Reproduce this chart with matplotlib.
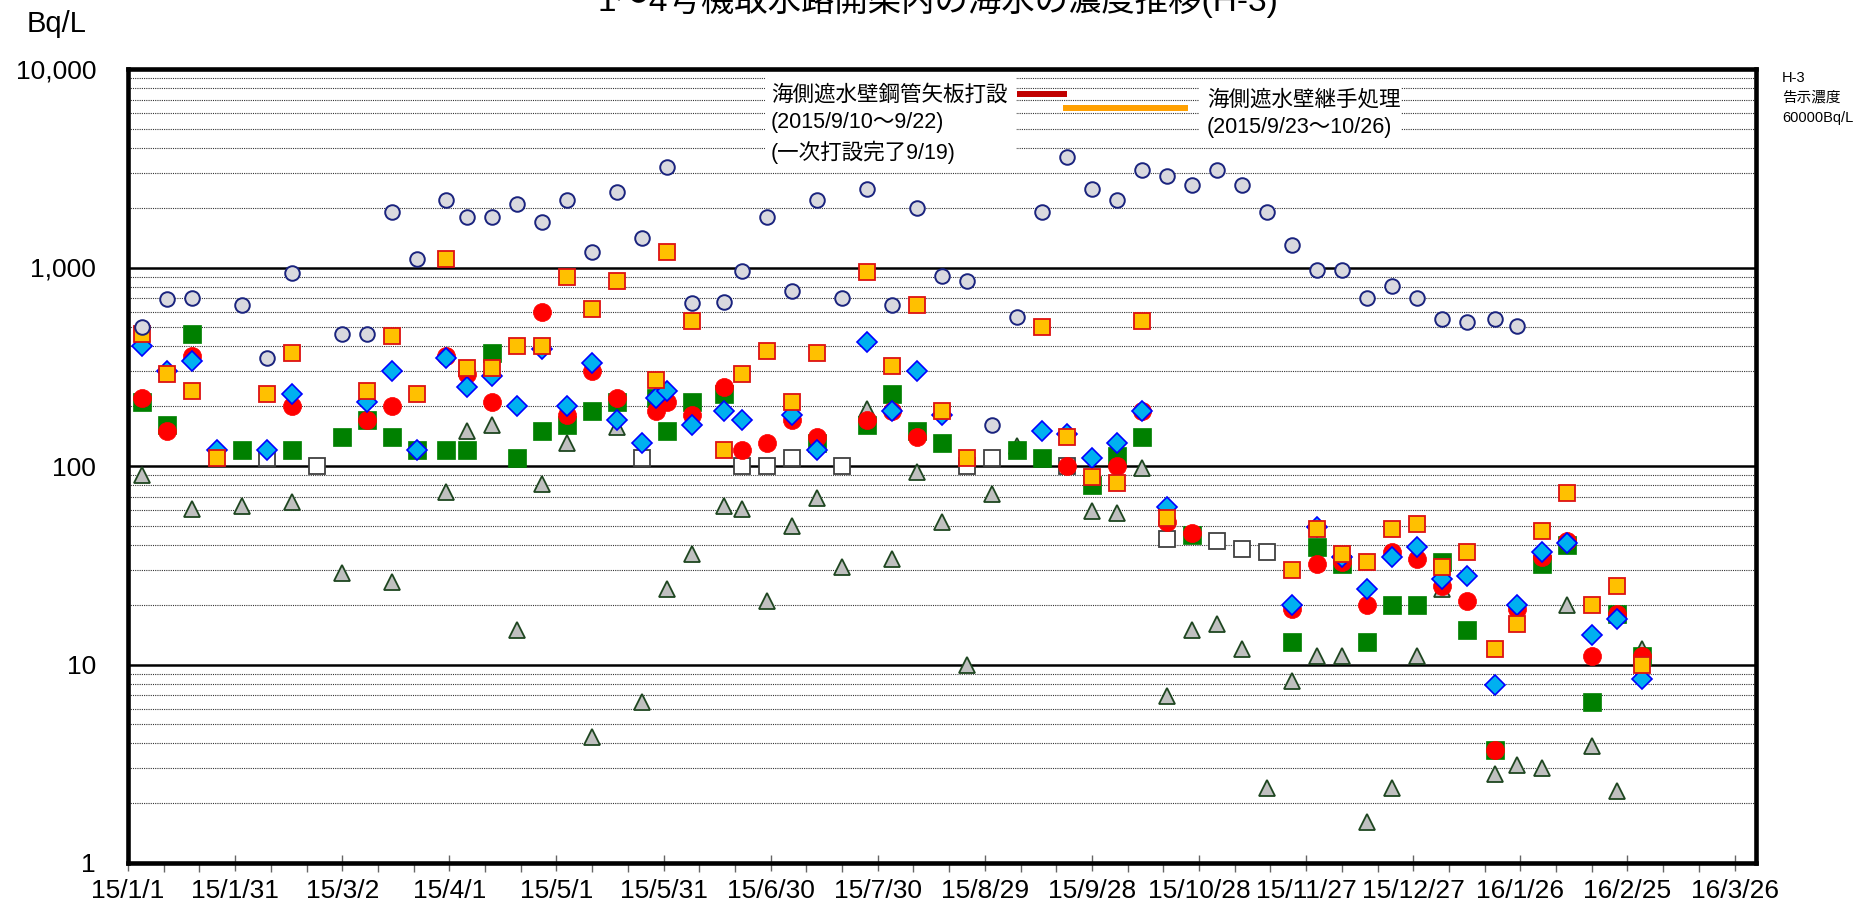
import numpy as np
import pandas as pd
import matplotlib
matplotlib.use('Agg')
import matplotlib.pyplot as plt
import matplotlib.dates as mdates
import matplotlib.transforms as mtransforms
from matplotlib.patches import Rectangle
from matplotlib.ticker import FixedLocator, FuncFormatter, LogLocator, NullFormatter

plt.rcParams['font.family'] = ['Liberation Sans', 'Noto Sans CJK JP', 'DejaVu Sans']

N = None

# 採取日
dates = ['2015-01-05', '2015-01-12', '2015-01-19', '2015-01-26', '2015-02-02',
         '2015-02-09', '2015-02-16', '2015-02-23', '2015-03-02', '2015-03-09',
         '2015-03-16', '2015-03-23', '2015-03-31', '2015-04-06', '2015-04-13',
         '2015-04-20', '2015-04-27', '2015-05-04', '2015-05-11', '2015-05-18',
         '2015-05-25', '2015-05-29', '2015-06-01', '2015-06-08', '2015-06-17',
         '2015-06-22', '2015-06-29', '2015-07-06', '2015-07-13', '2015-07-20',
         '2015-07-27', '2015-08-03', '2015-08-10', '2015-08-17', '2015-08-24',
         '2015-08-31', '2015-09-07', '2015-09-14', '2015-09-21', '2015-09-28',
         '2015-10-05', '2015-10-12', '2015-10-19', '2015-10-26', '2015-11-02',
         '2015-11-09', '2015-11-16', '2015-11-23', '2015-11-30', '2015-12-07',
         '2015-12-14', '2015-12-21', '2015-12-28', '2016-01-04', '2016-01-11',
         '2016-01-19', '2016-01-25', '2016-02-01', '2016-02-08', '2016-02-15',
         '2016-02-22', '2016-02-29']

# 各地点の濃度 (Bq/L)
gray_circle = [500, 690, 700, N, 650, 350, 940, N, 460, 460,
               1900, 1100, 2200, 1800, 1800, 2100, 1700, 2200, 1200, 2400,
               1400, N, 3200, 660, 670, 960, 1800, 760, 2200, 700,
               2500, 650, 2000, 910, 860, 160, 560, 1900, 3600, 2500,
               2200, 3100, 2900, 2600, 3100, 2600, 1900, 1300, 970, 970,
               700, 810, 700, 550, 530, 550, 510, N, N, N,
               N, N]
orange_square = [460, 290, 240, 110, N, 230, 370, N, N, 240,
                 450, 230, 1100, 310, 310, 400, 400, 900, 620, 860,
                 N, 270, 1200, 540, 120, 290, 380, 210, 370, N,
                 950, 320, 650, 190, 110, N, N, 500, 140, 88,
                 82, 540, 55, N, N, N, N, 30, 48, 36,
                 33, 48, 51, 31, 37, 12, 16, 47, 73, 20,
                 25, 10]
red_circle = [220, 150, 360, N, N, N, 200, N, N, 170,
              200, N, 360, 290, 210, N, 600, 180, 300, 220,
              N, 190, 210, 180, 250, 120, 130, 170, 140, N,
              170, 190, 140, N, N, N, N, N, 100, N,
              100, 190, 52, 46, N, N, N, 19, 32, 33,
              20, 37, 34, 25, 21, 3.7, 19, 35, 42, 11,
              18, 11]
blue_diamond = [400, 300, 340, 120, N, 120, 230, N, N, 210,
                300, 120, 350, 250, 285, 200, 390, 200, 330, 170,
                130, 220, 240, 160, 190, 170, N, 180, 120, N,
                420, 190, 300, 180, N, N, N, 150, 145, 110,
                130, 190, 62, N, N, N, N, 20, 49, 35,
                24, 35, 39, 27, 28, 7.9, 20, 37, 41, 14,
                17, 8.5]
green_square = [210, 160, 460, N, 120, N, 120, N, 140, 170,
                140, 120, 120, 120, 370, 110, 150, 160, 190, 210,
                N, 220, 150, 210, 230, N, N, N, 130, N,
                160, 230, 150, 130, N, N, 120, 110, N, 80,
                112, 140, N, 45, N, N, N, 13, 39, 32,
                13, 20, 20, 33, 15, 3.7, N, 32, 40, 6.5,
                18, 11]
gray_triangle = [90, N, 61, N, 63, N, 66, N, 29, N,
                 26, N, 74, 150, 160, 15, 81, 130, 4.3, 157,
                 6.5, N, 24, 36, 63, 61, 21, 50, 69, 31,
                 193, 34, 93, 52, 10, 72, 126, N, N, 59,
                 58, 98, 6.9, 15, 16, 12, 2.4, 8.3, 11, 11,
                 1.6, 2.4, 11, 24, N, 2.8, 3.1, 3.0, 20, 3.9,
                 2.3, 12]
white_square = [N, N, N, N, N, 110, N, 100, N, N,
                N, N, N, N, N, N, N, N, N, N,
                110, N, N, N, N, 100, 100, 110, N, 100,
                N, N, N, N, 100, 110, N, N, 100, N,
                N, N, 43, N, 42, 38, 37, N, N, N,
                N, N, N, N, N, N, N, N, N, N,
                N, N]

y_ticks = [1, 10, 100, 1000, 10000]
y_labels = ['1', '10', '100', '1,000', '10,000']

work1_period = ['2015-09-07', '2015-09-21']   # 鋼管矢板打設
work2_period = ['2015-09-20', '2015-10-25']   # 継手処理


def to_arr(v):
    return np.array([np.nan if a is None else a for a in v], dtype=float)


x = pd.to_datetime(dates)

W, H = 1854, 909
fig = plt.figure(figsize=(W / 100, H / 100), dpi=100)
ax = fig.add_axes([128 / W, 46 / H, 1628 / W, 794 / H])

styles = [
    (white_square, dict(marker='s', ms=12, mfc='white', mec='#404040', mew=1.3), 3),
    (gray_triangle, dict(marker='^', ms=12, mfc='#C0C0C0', mec='#1E4620', mew=1.3), 4),
    (green_square, dict(marker='s', ms=12.5, mfc='#008000', mec='#008000', mew=0.5), 5),
    (red_circle, dict(marker='o', ms=13, mfc='#FF0000', mec='#FF0000', mew=0.5), 6),
    (blue_diamond, dict(marker='D', ms=10.3, mfc='#00B0F0', mec='#0000FF', mew=1.2), 7),
    (orange_square, dict(marker='s', ms=11.5, mfc='#FFC000', mec='#DD1111', mew=1.3), 8),
    (gray_circle, dict(marker='o', ms=10.5, mfc='#D9D9DF', mec='#1A237E', mew=1.4), 9),
]
for vals, st, z in styles:
    ax.plot(x, to_arr(vals), linestyle='none', zorder=z, **st)

# 軸
ax.set_yscale('log')
ax.set_ylim(1, 10000)
start = pd.Timestamp('2015-01-01')
ax.set_xlim(start, pd.Timestamp('2016-04-01'))

major = [start + pd.Timedelta(days=30 * k) for k in range(16)]
minor = [start + pd.Timedelta(days=10 * k) for k in range(46) if k % 3 != 0]
ax.xaxis.set_major_locator(FixedLocator(mdates.date2num(major)))
ax.xaxis.set_minor_locator(FixedLocator(mdates.date2num(minor)))
ax.xaxis.set_major_formatter(FuncFormatter(
    lambda v, p: (lambda d: f"{d.year % 100}/{d.month}/{d.day}")(mdates.num2date(v))))
ax.xaxis.set_minor_formatter(NullFormatter())
ax.tick_params(axis='x', which='major', direction='inout', length=11, width=1,
               color='#666666', labelsize=19, pad=6)
ax.tick_params(axis='x', which='minor', direction='out', length=6.5, width=1,
               color='#666666')

ax.yaxis.set_major_locator(FixedLocator(y_ticks))
ax.set_yticklabels(y_labels)
ax.yaxis.set_minor_locator(LogLocator(base=10, subs=np.arange(2, 10)))
ax.yaxis.set_minor_formatter(NullFormatter())
ax.tick_params(axis='y', which='both', length=0, labelsize=19, pad=23)

ax.grid(axis='y', which='major', color='black', linewidth=1.8, zorder=1)
ax.grid(axis='y', which='minor', color='#333333', linewidth=0.8,
        linestyle=(0, (1, 1)), zorder=1)
ax.set_axisbelow(True)

for s in ax.spines.values():
    s.set_linewidth(3.3)
    s.set_color('black')
    s.set_capstyle('projecting')
    s.set_zorder(10)

# 工事期間の注記
box_kw = dict(transform=ax.transAxes, facecolor='white', edgecolor='none', zorder=2)
ax.add_patch(Rectangle((0.3913, 0.879), 0.1542, 0.117, **box_kw))
ax.add_patch(Rectangle((0.658, 0.9068), 0.124, 0.0752, **box_kw))

note_kw = dict(transform=ax.transAxes, fontsize=15.5, ha='left', va='center', zorder=3)
ax.text(0.395, 0.967, '海側遮水壁鋼管矢板打設', **note_kw)
ax.text(0.395, 0.932, '(2015/9/10～9/22)', **note_kw)
ax.text(0.395, 0.895, '(一次打設完了9/19)', **note_kw)
ax.text(0.6628, 0.961, '海側遮水壁継手処理', **note_kw)
ax.text(0.6628, 0.9257, '(2015/9/23～10/26)', **note_kw)

bt = mtransforms.blended_transform_factory(ax.transData, ax.transAxes)
ax.plot(pd.to_datetime(work1_period), [0.9685, 0.9685], transform=bt,
        color='#C00000', linewidth=4.3, solid_capstyle='butt', zorder=3)
ax.plot(pd.to_datetime(work2_period), [0.951, 0.951], transform=bt,
        color='#FFA000', linewidth=4.3, solid_capstyle='butt', zorder=3)

# タイトル・単位
fig.text(0.506, 1 - 11 / H, '1～4号機取水路開渠内の海水の濃度推移(H-3)',
         ha='center', va='baseline', fontsize=24)
fig.text(57 / W, 1 - 32 / H, 'Bq/L', ha='center', va='baseline', fontsize=21)

fig.text(1782 / W, 1 - 78 / H, 'H-3', ha='left', va='center', fontsize=10.5)
fig.text(1782 / W, 1 - 98 / H, '告示濃度', ha='left', va='center', fontsize=10.5)
fig.text(1782 / W, 1 - 118 / H, '60000Bq/L', ha='left', va='center', fontsize=10.5)

fig.savefig('out.png', dpi=100)
